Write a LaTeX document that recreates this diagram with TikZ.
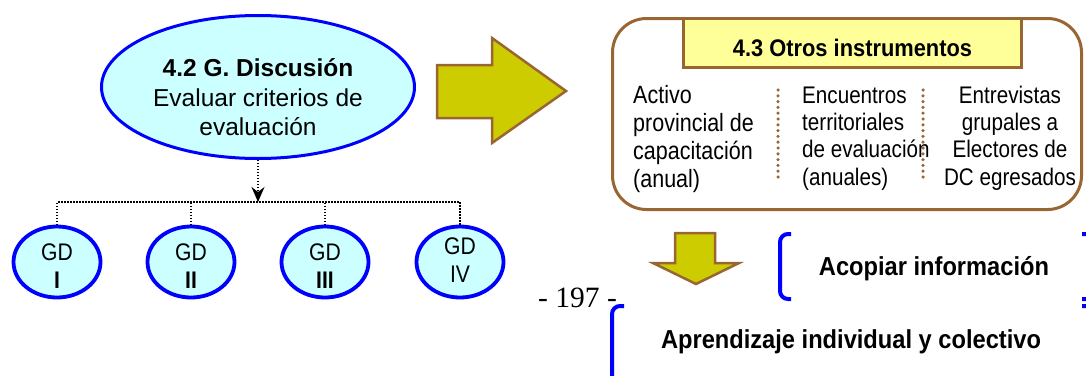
\documentclass[tikz,border=0pt]{standalone}
\usepackage{fontspec}
\setmainfont{Liberation Sans}
\newfontfamily\narrowA[FakeStretch=0.86]{Liberation Sans}
\newfontfamily\narrowB[FakeStretch=0.91]{Liberation Sans}
\newfontfamily\narrowC[FakeStretch=0.88]{Liberation Sans}
\newfontfamily\pagefont{Liberation Serif}
\usetikzlibrary{arrows.meta,shapes.geometric}

\definecolor{ovalfill}{HTML}{CCFFFF}
\definecolor{ovalline}{HTML}{0000FF}
\definecolor{arrowfill}{HTML}{CCCC00}
\definecolor{brownline}{HTML}{996633}
\definecolor{titlefill}{HTML}{FFFF99}

\tikzset{
  bigoval/.style={ellipse, draw=ovalline, fill=ovalfill, line width=3pt,
    minimum width=313pt, minimum height=143pt, inner sep=0pt},
  gdoval/.style={ellipse, draw=ovalline, fill=ovalfill, line width=3.8pt,
    minimum width=87pt, minimum height=71pt, inner sep=0pt},
  ovaltext/.style={anchor=base, inner sep=0pt, font=\fontsize{24.5}{29.5}\selectfont},
  gdtext/.style={anchor=base, inner sep=0pt, font=\narrowC\fontsize{24}{28}\selectfont},
  bus/.style={black, line width=1.1pt, dash pattern=on 1.1pt off 1.9pt},
  bigarrow/.style={draw=brownline, fill=arrowfill, line width=2.5pt, line join=miter},
  framebox/.style={draw=brownline, line width=3pt, rounded corners=34pt,
    minimum width=469pt, minimum height=191pt, inner sep=0pt},
  titlebox/.style={draw=brownline, fill=titlefill, line width=3pt,
    minimum width=338pt, minimum height=49pt, inner sep=0pt},
  coltext/.style={inner sep=0pt, font=\narrowA\fontsize{24}{27.3}\selectfont},
  sepdots/.style={brownline, line width=3.5pt, line cap=round, dash pattern=on 0pt off 5.8pt},
  bracket/.style={ovalline, line width=4pt, rounded corners=8pt},
  headtext/.style={anchor=base, inner sep=0pt, font=\narrowB\bfseries\fontsize{26}{30}\selectfont},
}

\begin{document}
\begin{tikzpicture}[x=1pt, y=-1pt]
\path[clip] (0,0) rectangle (1086,375);

% main discussion oval
\node[bigoval] (disc) at (258,87) {};
\node[ovaltext] (discA) at (258,76) {\bfseries 4.2 G. Discusión};
\node[ovaltext] (discB) at (258,106) {Evaluar criterios de};
\node[ovaltext] (discC) at (258,135) {evaluación};

% four discussion groups
\node[gdoval] (gd1) at (57,262) {};
\node[gdoval] (gd2) at (191,262) {};
\node[gdoval] (gd3) at (325,262) {};
\node[gdoval] (gd4) at (460,262) {};
\node[gdtext] (gd1a) at (57,260) {GD};
\node[gdtext] (gd1b) at (57,288) {\bfseries I};
\node[gdtext] (gd2a) at (191,260) {GD};
\node[gdtext] (gd2b) at (191,288) {\bfseries II};
\node[gdtext] (gd3a) at (325,260) {GD};
\node[gdtext] (gd3b) at (325,288) {\bfseries III};
\node[gdtext] (gd4a) at (460,254) {GD};
\node[gdtext] (gd4b) at (460,282) {IV};

% dotted distribution bus
\coordinate (hub) at (258,202);
\draw[bus, -{Stealth[length=15pt, width=13pt, inset=5pt]}] (disc.south) -- (hub);
\draw[bus] (gd1.north) |- (hub) -| (gd4.north);
\draw[bus] (gd2.north) -- (gd2.north |- hub);
\draw[bus] (gd3.north) -- (gd3.north |- hub);

% arrow to the other instruments
\draw[bigarrow] (437,65) -- (492,65) -- (492,38) -- (566,91) -- (492,143)
  -- (492,118) -- (437,118) -- cycle;

% other instruments frame
\node[framebox] (others) at (847,114) {};
\node[titlebox] (title) at (852.5,43) {};
\node[headtext, font=\narrowB\bfseries\fontsize{24}{28}\selectfont] (titleT) at (852.5,56) {4.3 Otros instrumentos};

% the three columns (anchored at the baseline of their last line)
\node[coltext, anchor=base west, align=left, font=\narrowA\fontsize{25}{28}\selectfont]
  (col1) at (633,187) {Activo\\provincial de\\capacitación\\(anual)};
\node[coltext, anchor=base west, align=left]
  (col2) at (802,185) {Encuentros\\territoriales\\de evaluación\\(anuales)};
\node[coltext, anchor=base, align=center]
  (col3) at (1010,185) {Entrevistas\\grupales a\\Electores de\\DC egresados};

\draw[sepdots] (778,90) -- (778,180);
\draw[sepdots] (923,90) -- (923,180);

% downward arrow
\draw[bigarrow] (675,233) -- (715,233) -- (715,263) -- (739,263) -- (696,284)
  -- (653,263) -- (675,263) -- cycle;

% outcomes in brackets
\draw[bracket] (791,234) -- (780,234) -- (780,299) -- (791,299);
\draw[bracket] (1082,234) -- (1094,234) -- (1094,299) -- (1082,299);
\node[headtext] (acopiar) at (934,275) {Acopiar información};

\draw[bracket] (624,306) -- (612,306) -- (612,390) -- (624,390);
\draw[bracket] (1082,306) -- (1094,306) -- (1094,390) -- (1082,390);
\node[headtext] (aprend) at (851,348) {Aprendizaje individual y colectivo};

% page number
\node[anchor=base, inner sep=0pt, font=\pagefont\fontsize{29.5}{34}\selectfont] (page) at (577.5,307) {- 197 -};
\end{tikzpicture}
\end{document}
